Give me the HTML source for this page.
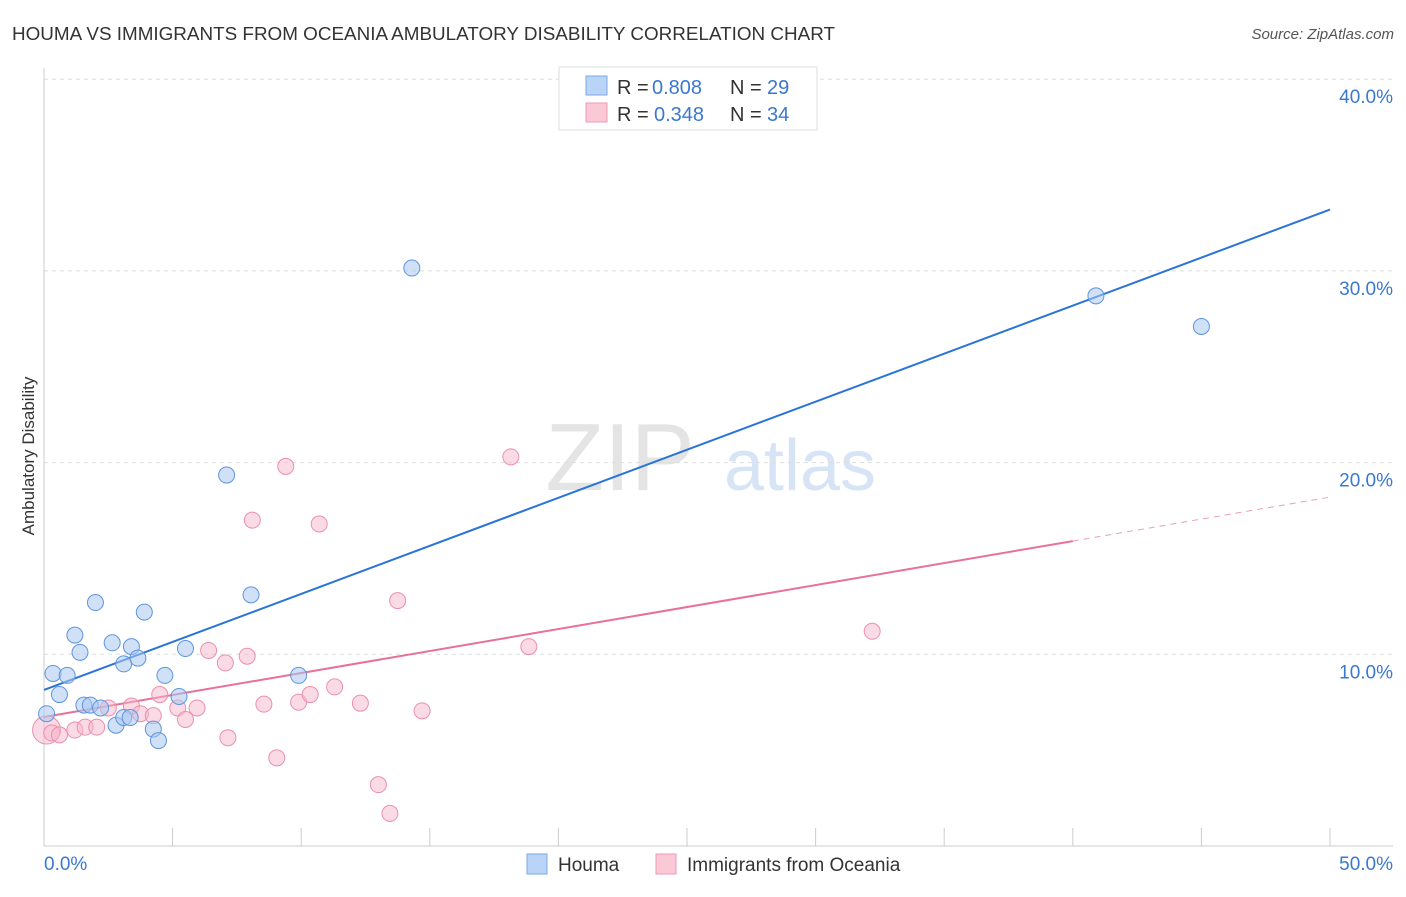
<!DOCTYPE html>
<html><head><meta charset="utf-8"><style>
body{margin:0;background:#fff;font-family:"Liberation Sans",sans-serif}
svg text{font-family:"Liberation Sans",sans-serif}
</style></head><body>
<svg id="chart" width="1406" height="892" viewBox="0 0 1406 892">
<text x="12" y="40" font-size="18" fill="#333" textLength="823" lengthAdjust="spacingAndGlyphs">HOUMA VS IMMIGRANTS FROM OCEANIA AMBULATORY DISABILITY CORRELATION CHART</text>
<text x="1394" y="39" font-size="15" fill="#555" font-style="italic" text-anchor="end">Source: ZipAtlas.com</text>
<text x="620" y="490" font-size="96" fill="#e4e4e4" font-family="Liberation Serif" text-anchor="middle">ZIP</text>
<text x="800" y="490" font-size="72" fill="#d6e4f6" text-anchor="middle">atlas</text>
<g id="grid"></g><g id="axes"></g><g id="lines"></g><g id="pts"></g>
<text transform="translate(34,456) rotate(-90)" font-size="17" fill="#333" text-anchor="middle">Ambulatory Disability</text>
<g>
<rect x="559" y="67" width="258" height="63" fill="#fff" stroke="#ddd"/>
<rect x="586" y="76" width="21" height="19" fill="#b9d4f6" stroke="#7aaae6"/>
<rect x="586" y="103" width="21" height="19" fill="#fac8d6" stroke="#ee9ab4"/>
<text x="617" y="94" font-size="20" fill="#333">R =</text>
<text x="652" y="94" font-size="20" fill="#3b78d0">0.808</text>
<text x="730" y="94" font-size="20" fill="#333">N =</text>
<text x="767" y="94" font-size="20" fill="#3b78d0">29</text>
<text x="617" y="121" font-size="20" fill="#333">R =</text>
<text x="654" y="121" font-size="20" fill="#3b78d0">0.348</text>
<text x="730" y="121" font-size="20" fill="#333">N =</text>
<text x="767" y="121" font-size="20" fill="#3b78d0">34</text>
</g>
<g>
<rect x="527" y="854" width="20" height="20" fill="#b9d4f6" stroke="#7aaae6"/>
<text x="558" y="871" font-size="19" fill="#333">Houma</text>
<rect x="656" y="854" width="20" height="20" fill="#fac8d6" stroke="#ee9ab4"/>
<text x="687" y="871" font-size="19" fill="#333">Immigrants from Oceania</text>
</g>
</svg>
<script>
const yTicks=[10,20,30,40];
const xTickLabels=["0.0%","50.0%"];
const houmaX=[0.1,0.35,0.6,0.9,1.2,1.4,1.55,1.8,2.0,2.2,2.65,2.8,3.1,3.1,3.35,3.4,3.65,3.9,4.25,4.45,4.7,5.25,5.5,7.1,8.05,9.9,14.3,40.9,45.0];
const houmaY=[6.9,9.0,7.9,8.9,11.0,10.1,7.35,7.35,12.7,7.2,10.6,6.3,9.5,6.7,6.7,10.4,9.8,12.2,6.1,5.5,8.9,7.8,10.3,19.35,13.1,8.9,30.15,28.7,27.1];
const ocX=[0.1,0.3,0.6,1.2,1.6,2.05,2.5,3.4,3.75,4.25,4.5,5.2,5.5,5.95,6.4,7.05,7.15,7.9,8.1,8.55,9.05,9.4,9.9,10.35,10.7,11.3,12.3,13.0,13.45,13.75,14.7,18.15,18.85,32.2];
const ocY=[6.05,5.9,5.8,6.05,6.2,6.2,7.2,7.3,6.9,6.8,7.9,7.2,6.6,7.2,10.2,9.55,5.65,9.9,17.0,7.4,4.6,19.8,7.5,7.9,16.8,8.3,7.45,3.2,1.7,12.8,7.05,20.3,10.4,11.2];
const houmaFit=[8.14,33.2];
const ocFit=[6.73,18.2];
const ocSolidEnd=40;
const NS="http://www.w3.org/2000/svg";
const sx=v=>44+v*25.72, sy=v=>846-v*19.17;
function mk(t,a,p){const e=document.createElementNS(NS,t);for(const k in a)e.setAttribute(k,a[k]);p.appendChild(e);return e;}
const grid=document.getElementById('grid'),axes=document.getElementById('axes'),lines=document.getElementById('lines'),pts=document.getElementById('pts');
yTicks.forEach(v=>{
 const l=mk('line',{x1:44,x2:1393,y1:sy(v),y2:sy(v),stroke:'#ddd','stroke-dasharray':'4,4'},grid);
 
 
 const t=mk('text',{x:1393,y:sy(v)+24,'font-size':19,fill:'#3b78d0','text-anchor':'end'},grid);
 t.textContent=v.toFixed(1)+'%';
 
 
});
const ya=mk('line',{x1:44,x2:44,y1:68,y2:846,stroke:'#ccc'},axes);


const xa=mk('line',{x1:44,x2:1393,y1:846,y2:846,stroke:'#ccc'},axes);


for(let i=0;i<=10;i++){
 const tk=mk('line',{x1:sx(i*5),x2:sx(i*5),y1:828,y2:846,stroke:'#ccc'},axes);
 
 
}
[[0,'start'],[50,'end']].forEach((d,i)=>{
 const t=mk('text',{x:i?1393:44,y:870,'font-size':19,fill:'#3b78d0','text-anchor':d[1]},axes);
 t.textContent=xTickLabels[i];
 
 
});
const slope=(f,x)=>f[0]+(f[1]-f[0])*x/50;
const bl=mk('line',{x1:sx(0),y1:sy(houmaFit[0]),x2:sx(50),y2:sy(houmaFit[1]),stroke:'#2a74d8','stroke-width':2},lines);


const pl=mk('line',{x1:sx(0),y1:sy(ocFit[0]),x2:sx(ocSolidEnd),y2:sy(slope(ocFit,ocSolidEnd)),stroke:'#e8709a','stroke-width':2},lines);


const pd=mk('line',{x1:sx(ocSolidEnd),y1:sy(slope(ocFit,ocSolidEnd)),x2:sx(50),y2:sy(ocFit[1]),stroke:'#e8a0b8','stroke-width':1,'stroke-dasharray':'6,5'},lines);


ocX.forEach((x,i)=>{
 const c=mk('circle',{cx:sx(x),cy:sy(ocY[i]),r:i==0?14:8,fill:'rgba(246,184,203,0.5)',stroke:'#ea8fad','stroke-width':1},pts);
 
 
});
houmaX.forEach((x,i)=>{
 const c=mk('circle',{cx:sx(x),cy:sy(houmaY[i]),r:8,fill:'rgba(169,200,240,0.55)',stroke:'#5e95dc','stroke-width':1},pts);
 
 
});
</script>
</body></html>
